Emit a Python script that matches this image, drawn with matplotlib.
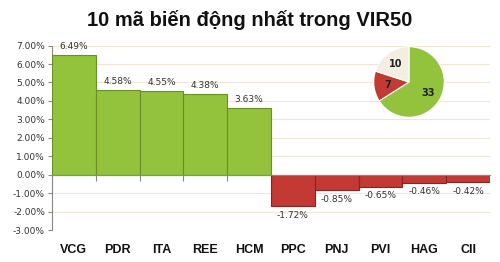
import matplotlib
matplotlib.use("Agg")
import matplotlib.pyplot as plt
import matplotlib.transforms as mtransforms
import numpy as np

# data
tickers = ["VCG", "PDR", "ITA", "REE", "HCM", "PPC", "PNJ", "PVI", "HAG", "CII"]
changes = [6.49, 4.58, 4.55, 4.38, 3.63, -1.72, -0.85, -0.65, -0.46, -0.42]
pie_counts = [33, 7, 10]
yticks = [-3, -2, -1, 0, 1, 2, 3, 4, 5, 6, 7]

GREEN = "#93c23c"
GREEN_EDGE = "#6a8f25"
RED = "#c23a33"
RED_EDGE = "#8a2420"
CREAM = "#f4eee2"
GRID = "#eee7d8"

fig = plt.figure(figsize=(5, 2.62), dpi=100)
fig.patch.set_facecolor("white")

ax = fig.add_axes([0.104, 0.122, 0.876, 0.704])
x = np.arange(len(tickers))
colors = [GREEN if v >= 0 else RED for v in changes]
edges = [GREEN_EDGE if v >= 0 else RED_EDGE for v in changes]
bars = ax.bar(x, changes, width=1.0, color=colors, edgecolor=edges, linewidth=0.8, zorder=3)

ax.set_xlim(-0.5, len(tickers) - 0.5)
ax.set_ylim(-3, 7)
ax.set_yticks(yticks)
ax.set_yticklabels([f"{t:.2f}%" for t in yticks], fontsize=6.5, color="#333333",
                   family="DejaVu Sans")
ax.yaxis.grid(True, color=GRID, linewidth=0.8, zorder=0)
ax.tick_params(axis="y", length=3, width=0.8, color="#888888", pad=2)

for s in ["top", "right"]:
    ax.spines[s].set_visible(False)
ax.spines["left"].set_color("#888888")
ax.spines["bottom"].set_position(("data", 0))
ax.spines["bottom"].set_color("#888888")
ax.spines["bottom"].set_zorder(4)

ax.set_xticks(x)
ax.set_xticklabels([])
ax.tick_params(axis="x", which="major", length=0)
ax.set_xticks(x[:-1] + 0.5, minor=True)
ax.tick_params(axis="x", which="minor", length=4, width=0.8, color="#888888", direction="out")

ax.bar_label(bars, labels=[f"{v:.2f}%" for v in changes], padding=3,
             fontsize=6.5, color="#333333", family="DejaVu Sans")

trans = mtransforms.blended_transform_factory(ax.transData, ax.transAxes)
for xi, name in zip(x, tickers):
    ax.text(xi, -0.11, name, transform=trans, ha="center", va="center",
            fontsize=9, fontweight="bold", family="Liberation Sans", color="#111111")

fig.text(0.5, 0.924, "10 mã biến động nhất trong VIR50", ha="center", va="center",
         fontsize=14.5, fontweight="bold", family="Liberation Sans", color="#111111")

# small pie of advancing / declining / unchanged
pax = fig.add_axes([0.746, 0.5496, 0.144, 0.2748])
wedges, texts = pax.pie(pie_counts, colors=[GREEN, RED, CREAM], startangle=90,
                        counterclock=False, labels=[str(c) for c in pie_counts],
                        labeldistance=0.62, radius=1.0,
                        wedgeprops=dict(edgecolor="white", linewidth=0.8))
for t in texts:
    t.set_ha("center")
    t.set_va("center")
    t.set_fontsize(7)
    t.set_fontweight("bold")
    t.set_color("#222222")
pax.set_xlim(-1.02, 1.02)
pax.set_ylim(-1.02, 1.02)
pax.set_aspect("equal")

fig.savefig("out.png", dpi=100)
